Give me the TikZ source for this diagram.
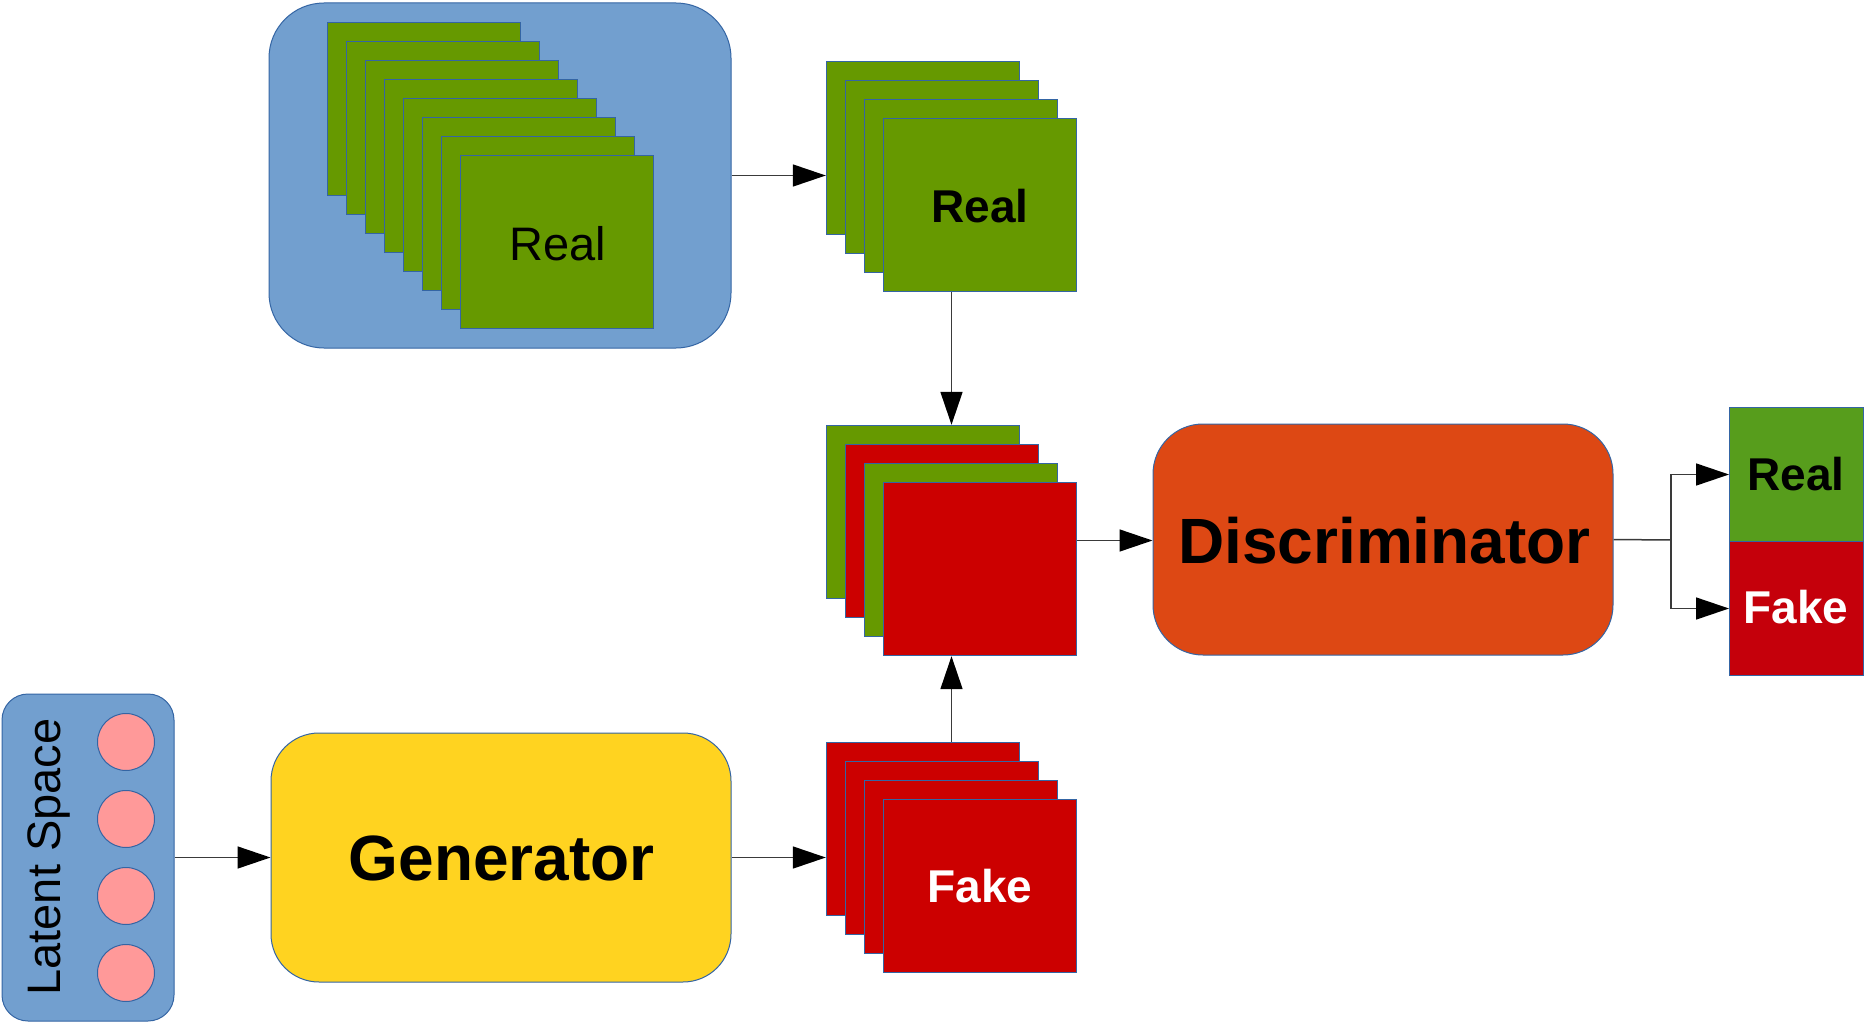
\documentclass[tikz,border=0pt]{standalone}
\usepackage{fontspec}
\setmainfont{Liberation Sans}
\usetikzlibrary{arrows.meta,fit}

\definecolor{skyblue}{HTML}{729FCF}
\definecolor{edgeblue}{HTML}{3465A4}
\definecolor{leafgreen}{HTML}{669900}
\definecolor{brightgreen}{HTML}{579D1C}
\definecolor{signalred}{HTML}{CC0000}
\definecolor{darkred}{HTML}{C5000B}
\definecolor{brick}{HTML}{DD4814}
\definecolor{sunyellow}{HTML}{FFD320}
\definecolor{rosepink}{HTML}{FF9999}
\definecolor{wire}{HTML}{3A3A3A}

\tikzset{
  sheet/.style={draw=edgeblue, line width=1pt, inner sep=0pt, anchor=north west,
                minimum width=193pt, minimum height=173pt},
  greensheet/.style={sheet, fill=leafgreen},
  redsheet/.style={sheet, fill=signalred},
  panel/.style={draw=edgeblue, line width=1pt, inner sep=0pt},
  group/.style={inner sep=0pt},
  regtext/.style={font=\fontsize{47}{56}\selectfont, anchor=base, inner sep=0pt},
  boldtext/.style={font=\fontsize{46}{55}\selectfont\bfseries, anchor=base, inner sep=0pt},
  bigtext/.style={font=\fontsize{64}{76}\selectfont\bfseries, anchor=base, inner sep=0pt},
  link/.style={draw=wire, line width=1.5pt,
               -{Triangle[length=33pt,width=22pt,color=black,fill=black]}},
  joint/.style={draw=wire, line width=1.5pt},
}

\begin{document}
\begin{tikzpicture}[x=1pt,y=-1pt]
\useasboundingbox[fill=white] (0,0) rectangle (1864,1025);

% dataset of real samples
\node[panel, fill=skyblue, rounded corners=55pt, minimum width=462pt, minimum height=345pt]
  (data) at (500,175.5) {};
\foreach \i in {0,...,7}
  \node[greensheet] (t\i) at ({327+19*\i},{22+19*\i}) {};
\node[regtext] (datalabel) at (558,260) {Real};

% batch of real samples
\foreach \i in {0,...,3}
  \node[greensheet] (s\i) at ({826+19*\i},{61+19*\i}) {};
\node[group, fit=(s0)(s3)] (realbatch) {};
\node[boldtext] (reallabel) at (980,222.7) {Real};

% mixed batch
\node[greensheet] (m0) at (826,425) {};
\node[redsheet]   (m1) at (845,444) {};
\node[greensheet] (m2) at (864,463) {};
\node[redsheet]   (m3) at (883,482) {};
\node[group, fit=(m0)(m3)] (mixbatch) {};

% batch of generated samples
\foreach \i in {0,...,3}
  \node[redsheet] (f\i) at ({826+19*\i},{742+19*\i}) {};
\node[group, fit=(f0)(f3)] (fakebatch) {};
\node[boldtext, text=white] (fakelabel) at (980,902.7) {Fake};

% latent space
\node[panel, fill=skyblue, rounded corners=26pt, minimum width=172pt, minimum height=327pt]
  (latent) at (88,857.5) {};
\foreach \j/\y in {1/742,2/819,3/896,4/973}
  \node[draw=edgeblue, line width=1pt, fill=rosepink, circle, minimum size=57pt, inner sep=0pt]
    (z\j) at (126,\y) {};
\node[regtext, rotate=90] (latentlabel) at (60,857) {Latent Space};

% generator
\node[panel, fill=sunyellow, rounded corners=48pt, minimum width=460pt, minimum height=249pt]
  (gen) at (501,857.5) {};
\node[bigtext] (genlabel) at (501.7,880) {Generator};

% discriminator
\node[panel, fill=brick, rounded corners=50pt, minimum width=460pt, minimum height=231pt]
  (disc) at (1383,539.5) {};
\node[bigtext] (disclabel) at (1384.5,563) {Discriminator};

% decision
\node[panel, fill=brightgreen, minimum width=134pt, minimum height=134pt, anchor=north west]
  (outreal) at (1729,407) {};
\node[panel, fill=darkred, minimum width=134pt, minimum height=134pt, anchor=north west]
  (outfake) at (1729,541) {};
\node[boldtext] (outreallabel) at (1796,490) {Real};
\node[boldtext, text=white] (outfakelabel) at (1796,623) {Fake};

% connectors
\draw[link] (data.east) -- (data.east -| realbatch.west);
\draw[link] (realbatch.south) -- (mixbatch.north);
\draw[link] (fakebatch.north) -- (mixbatch.south);
\draw[link] (latent.east) -- (gen.west);
\draw[link] (gen.east) -- (gen.east -| fakebatch.west);
\draw[link] (mixbatch.east) -- (mixbatch.east -| disc.west);
\coordinate (split) at (1671,540);
\draw[joint] (disc.east) -- (split);
\draw[link] (split) |- (outreal.west);
\draw[link] (split) |- (outfake.west);
\end{tikzpicture}
\end{document}
